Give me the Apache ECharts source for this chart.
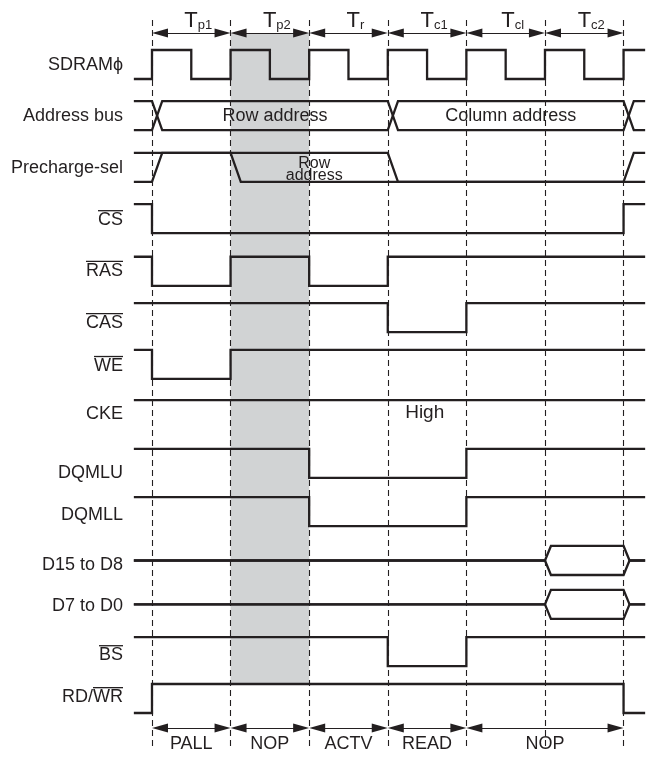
<!DOCTYPE html>
<html>
<head>
<meta charset="utf-8">
<script src="https://cdn.jsdelivr.net/npm/echarts@6/dist/echarts.min.js"></script>
<style>
  html, body { margin: 0; padding: 0; background: #fff; }
  #chart { width: 652px; height: 757px; }
</style>
</head>
<body>
<div id="chart"></div>
<script>
// signal names, top to bottom
const signalNames = ['SDRAMϕ', 'Address bus', 'Precharge-sel', 'CS', 'RAS', 'CAS', 'WE', 'CKE',
  'DQMLU', 'DQMLL', 'D15 to D8', 'D7 to D0', 'BS', 'RD/WR']
// active-low part of a name, drawn with a bar over it
const overlined = {CS: 'CS', RAS: 'RAS', CAS: 'CAS', WE: 'WE', BS: 'BS', 'RD/WR': 'WR'}

// clock cycles (T subscripts) and commands under the diagram
const cycleNames = ['p1', 'p2', 'r', 'c1', 'cl', 'c2']
const commandNames = ['PALL', 'NOP', 'ACTV', 'READ', 'NOP']
const commandStart = [0, 1, 2, 3, 4]
const commandEnd = [1, 2, 3, 4, 6]
const shadedCycle = 1

// waveforms: [time in cycles, state, text]; H high, L low, Z middle, B bus
const tStart = -0.216
const tEnd = 6.26
const clkWave = [[tStart, 'L'], [0, 'H'], [0.5, 'L'], [1, 'H'], [1.5, 'L'], [2, 'H'], [2.5, 'L'],
  [3, 'H'], [3.5, 'L'], [4, 'H'], [4.5, 'L'], [5, 'H'], [5.5, 'L'], [6, 'H']]
const addrWave = [[tStart, 'B'], [0, 'B', 'Row address'], [3, 'B', 'Column address'], [6, 'B']]
const preselWave = [[tStart, 'B'], [0, 'H'], [1, 'B', 'Row\naddress'], [3, 'L'], [6, 'B']]
const csWave = [[tStart, 'H'], [0, 'L'], [6, 'H']]
const rasWave = [[tStart, 'H'], [0, 'L'], [1, 'H'], [2, 'L'], [3, 'H']]
const casWave = [[tStart, 'H'], [3, 'L'], [4, 'H']]
const weWave = [[tStart, 'H'], [0, 'L'], [1, 'H']]
const ckeWave = [[tStart, 'H']]
const dqmluWave = [[tStart, 'H'], [2, 'L'], [4, 'H']]
const dqmllWave = [[tStart, 'H'], [2, 'L'], [4, 'H']]
const dHighWave = [[tStart, 'Z'], [5, 'B'], [6, 'Z']]
const dLowWave = [[tStart, 'Z'], [5, 'B'], [6, 'Z']]
const bsWave = [[tStart, 'H'], [3, 'L'], [4, 'H']]
const rdwrWave = [[tStart, 'L'], [0, 'H'], [6, 'L']]
const ckeNote = ['High', 3.47]

const waves = [clkWave, addrWave, preselWave, csWave, rasWave, casWave, weWave, ckeWave,
  dqmluWave, dqmllWave, dHighWave, dLowWave, bsWave, rdwrWave]

// layout (y axis in row units, x axis in clock cycles)
const edgeWidth = [0, 0.13, 0.13, 0, 0, 0, 0, 0, 0, 0, 0.076, 0.076, 0, 0]
const rowSlot = [0, 1.05, 2.11, 3.16, 4.24, 5.19, 6.15, 7.18, 8.18, 9.17, 10.17, 11.07, 12.04, 13]
const labelSlot = [0.31, 1.35, 2.42, 3.49, 4.53, 5.6, 6.48, 7.46, 8.67, 9.53, 10.56, 11.4, 12.41, 13.27]
const ckeNoteSlot = 7.44
const AMP = 0.595
const topArrowY = -0.349
const bottomArrowY = 13.9
const headInset = 0.102
const dashTop = -0.615
const dashBottom = 14.31
const ink = '#231f20'
const font = 'Liberation Sans'
const headPath = 'path://M4.5 0 L9 16 L0 16 Z'

const levelOf = {H: [1, 1], L: [0, 0], Z: [0.5, 0.5], B: [1, 0]}

function rails (wave, w) {
  let cur = levelOf[wave[0][1]].slice()
  let prev = wave[0][1]
  let a = [[wave[0][0], cur[0]]]
  let b = [[wave[0][0], cur[1]]]
  for (let k = 1; k < wave.length; k++) {
    let t = wave[k][0]
    let s = wave[k][1]
    let next = levelOf[s].slice()
    if (s === 'B' && prev === 'B') next = [cur[1], cur[0]]
    a.push([t, cur[0]], [t + w, next[0]])
    b.push([t, cur[1]], [t + w, next[1]])
    cur = next
    prev = s
  }
  a.push([tEnd, cur[0]])
  b.push([tEnd, cur[1]])
  return [a, b]
}

let myChart = echarts.init(document.getElementById('chart'))
let series = []

series.push({
  name: 'band',
  type: 'line',
  data: [],
  z: 0,
  markArea: {
    silent: true,
    itemStyle: {color: '#d1d3d4'},
    data: [[{coord: [shadedCycle, topArrowY]}, {coord: [shadedCycle + 1, rowSlot[13]]}]]
  }
})

let cycleEdges = []
for (let i = 0; i <= cycleNames.length; i++) cycleEdges.push(i)
series.push({
  name: 'edges',
  type: 'line',
  data: [],
  z: 1,
  markLine: {
    silent: true,
    symbol: ['none', 'none'],
    label: {show: false},
    lineStyle: {color: ink, width: 1.1, type: [6, 4]},
    data: cycleEdges.map(t => [{coord: [t, dashTop]}, {coord: [t, dashBottom]}])
  }
})

const arrowRich = {
  t: {fontSize: 22, fontFamily: font, color: ink, verticalAlign: 'bottom'},
  s: {fontSize: 13, fontFamily: font, color: ink, verticalAlign: 'bottom'}
}
series.push({
  name: 'cycles',
  type: 'line',
  data: [],
  z: 3,
  markLine: {
    silent: true,
    symbol: [headPath, headPath],
    symbolSize: 16,
    symbolKeepAspect: true,
    lineStyle: {color: ink, width: 1, type: 'solid'},
    itemStyle: {color: ink},
    label: {
      show: true,
      position: 'middle',
      distance: 1,
      formatter: p => '{t|T}{s|' + p.name + '}',
      rich: arrowRich,
      offset: [7, 0]
    },
    data: cycleNames.map((c, i) => [{coord: [i + headInset, topArrowY], name: c},
      {coord: [i + 1 - headInset, topArrowY]}])
  }
})

series.push({
  name: 'commands',
  type: 'line',
  data: [],
  z: 3,
  markLine: {
    silent: true,
    symbol: [headPath, headPath],
    symbolSize: 16,
    symbolKeepAspect: true,
    lineStyle: {color: ink, width: 1, type: 'solid'},
    itemStyle: {color: ink},
    label: {
      show: true,
      position: 'insideMiddleBottom',
      distance: 7,
      formatter: p => p.name,
      fontSize: 18,
      fontFamily: font,
      color: ink
    },
    data: commandNames.map((c, i) => [{coord: [commandStart[i] + headInset, bottomArrowY], name: c},
      {coord: [commandEnd[i] - headInset, bottomArrowY]}])
  }
})

let notes = []
waves.forEach((wave, i) => {
  let w = edgeWidth[i]
  let [a, b] = rails(wave, w)
  let toXY = pts => pts.map(p => [p[0], rowSlot[i] + (1 - p[1]) * AMP])
  let same = a.every((p, k) => p[1] === b[k][1])
  let railList = same ? [a] : [a, b]
  railList.forEach((pts, r) => {
    series.push({
      name: signalNames[i] + '-' + r,
      type: 'line',
      data: toXY(pts),
      showSymbol: false,
      clip: false,
      z: 4,
      lineStyle: {color: ink, width: 2.3, cap: 'square', join: 'miter'}
    })
  })
  wave.forEach((ev, k) => {
    if (!ev[2]) return
    let t1 = k + 1 < wave.length ? wave[k + 1][0] : tEnd
    notes.push({
      value: [(ev[0] + w + t1) / 2, rowSlot[i] + AMP / 2],
      name: ev[2],
      label: ev[2].indexOf('\n') >= 0 ? {fontSize: 16, lineHeight: 12, offset: [0, 2]} : {fontSize: 18}
    })
  })
})
notes.push({value: [ckeNote[1], ckeNoteSlot], name: ckeNote[0], label: {fontSize: 19}})

series.push({
  name: 'notes',
  type: 'scatter',
  data: notes,
  symbolSize: 0.01,
  itemStyle: {color: ink},
  clip: false,
  z: 5,
  label: {
    show: true,
    position: 'inside',
    formatter: p => p.name,
    fontFamily: font,
    color: ink,
    opacity: 1,
    textBorderWidth: 0
  }
})

let option = {
  animation: false,
  grid: {left: 135, right: 8, top: 0, bottom: 0, outerBoundsMode: 'none'},
  xAxis: {
    type: 'value',
    min: tStart,
    max: tEnd,
    axisLine: {show: false},
    axisTick: {show: false},
    axisLabel: {show: false},
    splitLine: {show: false}
  },
  yAxis: {
    type: 'value',
    inverse: true,
    min: -1.025,
    max: 14.497,
    axisLine: {show: false},
    axisTick: {show: false},
    splitLine: {show: false},
    axisLabel: {
      customValues: labelSlot,
      margin: 12,
      fontSize: 18,
      fontFamily: font,
      color: ink,
      formatter: (v) => {
        let i = labelSlot.findIndex(s => Math.abs(s - v) < 1e-6)
        return i >= 0 ? signalNames[i] : ''
      }
    }
  },
  series: series
}
myChart.setOption(option)

// bars over active-low names
let ctx = document.createElement('canvas').getContext('2d')
ctx.font = '18px "' + font + '"'
let bars = []
signalNames.forEach((name, i) => {
  let part = overlined[name]
  if (!part) return
  let w = ctx.measureText(part).width
  let y = myChart.convertToPixel({gridIndex: 0}, [0, labelSlot[i]])[1] - 9.5
  let right = 135 - 12
  bars.push({
    type: 'line',
    shape: {x1: right - w, y1: y, x2: right, y2: y},
    style: {stroke: ink, lineWidth: 1.3}
  })
})
myChart.setOption({graphic: bars})
</script>
</body>
</html>
